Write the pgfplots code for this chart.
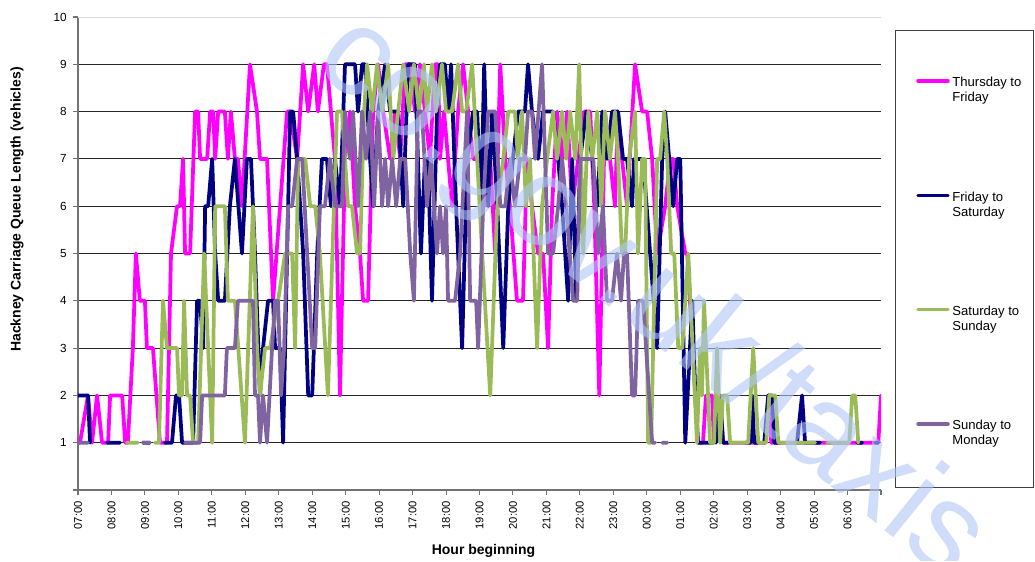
\documentclass[border=0pt]{standalone}
\usepackage{fontspec}
\setmainfont{Liberation Sans}
\usepackage{pgfplots}
\pgfplotsset{compat=1.18}
\usepackage{xcolor}

\definecolor{cThu}{RGB}{255,0,255}
\definecolor{cFri}{RGB}{0,0,128}
\definecolor{cSat}{RGB}{155,187,89}
\definecolor{cSun}{RGB}{128,100,162}
\definecolor{wmblue}{RGB}{175,198,248}

\begin{document}
\begin{tikzpicture}
\begin{axis}[
    at={(0,0)}, anchor=south west,
    scale only axis, width=602.25pt, height=354.75pt,
    xmin=0, xmax=24, ymin=0, ymax=10,
    axis lines*=left,
    axis line style={draw=black!55, line width=0.8pt},
    tick style={draw=black!55, line width=0.8pt},
    tick align=outside, major tick length=3.75pt,
    xtick={0,1,...,24},
    xticklabels={07:00,08:00,09:00,10:00,11:00,12:00,13:00,14:00,15:00,16:00,17:00,18:00,19:00,20:00,21:00,22:00,23:00,00:00,01:00,02:00,03:00,04:00,05:00,06:00,},
    ytick={0,1,...,9},
    yticklabels={,1,2,3,4,5,6,7,8,9},
    extra y ticks={10}, extra y tick labels={10},
    extra y tick style={grid style={black!15, line width=0.6pt}},
    ymajorgrids, grid style={black!85, line width=0.6pt},
    xticklabel style={rotate=90, anchor=east, inner sep=0pt, xshift=-4.5pt, font=\fontsize{8.4}{9}\selectfont},
    yticklabel style={anchor=east, inner sep=0pt, font=\fontsize{8.8}{9}\selectfont},
    yticklabel shift=4.5pt,
    xlabel={Hour beginning},
    ylabel={Hackney Carriage Queue Length (vehicles)},
    every axis x label/.style={at={(rel axis cs:0.505,0)}, anchor=center, yshift=-45.75pt, font=\bfseries\fontsize{10.5}{12}\selectfont},
    every axis y label/.style={at={(rel axis cs:0,0.593)}, anchor=center, rotate=90, yshift=45.75pt, font=\bfseries\fontsize{10.5}{12}\selectfont},
    unbounded coords=jump,
    every axis plot/.append style={line width=2.8pt, line join=round, line cap=round},
    legend cell align=left,
    legend image code/.code={\draw[#1, line width=2.6pt, line cap=round] (0pt,4.3pt) -- (22.5pt,4.3pt);},
    legend style={at={(1.0436,0.881)}, anchor=north west, draw=none, fill=none,
        inner sep=0pt, row sep=72.4pt, column sep=0pt,
        cells={anchor=base west, inner sep=0pt},
        font=\fontsize{9.8}{11.25}\selectfont},
]
\coordinate (O) at (rel axis cs:0,0);

% Thursday to Friday
\addplot[cThu] coordinates {
(0,1)(0.06,1)(0.30,2)(0.42,1)(0.57,2)(0.72,1)(0.90,1)(0.96,2)(1.32,2)(1.41,1)(1.49,1)(1.64,3)(1.73,5)(1.85,4)(2.00,4)(2.06,3)(2.24,3)(2.45,1)(2.66,1)(2.78,5)(2.96,6)(3.05,6)(3.14,7)(3.20,5)(3.35,5)(3.50,8)(3.59,8)(3.65,7)(3.86,7)(3.95,8)(4.04,8)(4.10,7)(4.19,8)(4.39,8)(4.48,7)(4.57,8)(4.69,7)(4.78,7)(4.90,6)(5.14,9)(5.35,8)(5.44,7)(5.65,7)(5.83,4)(6.04,6)(6.25,8)(6.34,8)(6.55,7)(6.73,9)(6.88,8)(7.06,9)(7.17,8)(7.35,9)(7.44,9)(7.56,8)(7.68,7)(7.83,2)(7.98,7)(8.13,8)(8.28,6)(8.43,5)(8.52,4)(8.67,4)(8.82,8)(8.97,9)(9.12,8)(9.33,7)(9.48,8)(9.63,7)(9.78,9)(9.93,9)(10.07,8)(10.22,9)(10.37,8)(10.52,7)(10.67,9)(10.76,9)(10.82,7)(10.94,8)(11.06,7)(11.18,6)(11.36,8)(11.51,9)(11.66,8)(11.81,7)(11.96,7)(12.14,6)(12.32,7)(12.47,5)(12.62,9)(12.77,7)(12.91,6)(13.12,4)(13.30,4)(13.42,7)(13.57,6)(13.75,5)(13.90,5)(14.05,3)(14.17,6)(14.32,8)(14.47,7)(14.62,8)(14.77,6)(14.95,7)(15.13,8)(15.31,8)(15.43,6)(15.58,2)(15.75,8)(15.90,7)(16.05,6)(16.14,8)(16.26,7)(16.41,6)(16.65,9)(16.86,8)(17.01,8)(17.16,7)(17.31,5)(17.55,6)(17.70,7)(17.79,7)(17.91,6)(18.15,5)(18.21,5)(18.53,1)(18.68,1)(18.77,2)(18.95,2)(19.01,1)(19.07,2)(19.19,2)(19.28,1)(20.54,1)(20.63,2)(20.72,1)(23.92,1)(24,2)
};
\addlegendentry{\begin{tabular}[t]{@{}l@{}}Thursday to\\Friday\end{tabular}}

% Friday to Saturday
\addplot[cFri] coordinates {
(0,2)(0.30,2)(0.36,1)(0.37,nan)(0.87,1)(1.26,1)(1.27,nan)(1.94,1)(2.15,1)(2.16,nan)(2.60,1)(2.81,1)(2.93,2)(3.02,2)(3.11,1)(3.44,1)(3.56,4)(3.65,4)(3.74,3)(3.80,6)(3.89,6)(4.01,7)(4.10,5)(4.19,4)(4.39,4)(4.54,6)(4.69,7)(4.90,5)(5.05,7)(5.17,7)(5.29,5)(5.44,2)(5.53,3)(5.68,4)(5.83,4)(5.89,3)(6.04,3)(6.13,1)(6.25,5)(6.34,8)(6.43,8)(6.55,7)(6.73,5)(6.88,2)(7.00,2)(7.15,5)(7.29,7)(7.44,7)(7.56,6)(7.68,7)(7.83,6)(7.98,9)(8.28,9)(8.37,8)(8.49,9)(8.58,9)(8.73,7)(8.82,6)(8.97,8)(9.18,9)(9.33,8)(9.57,8)(9.72,6)(9.87,9)(10.07,9)(10.25,5)(10.37,7)(10.46,7)(10.58,4)(10.73,8)(10.82,9)(10.97,9)(11.06,8)(11.15,9)(11.30,6)(11.48,3)(11.63,7)(11.81,8)(11.93,8)(12.05,6)(12.14,9)(12.26,6)(12.38,8)(12.53,6)(12.71,3)(12.86,6)(13.00,7)(13.15,8)(13.36,8)(13.45,9)(13.57,8)(13.75,7)(13.90,8)(14.02,8)(14.20,8)(14.35,7)(14.47,6)(14.65,4)(14.77,7)(14.89,4)(15.01,7)(15.19,8)(15.37,7)(15.52,6)(15.67,8)(15.81,7)(15.96,8)(16.14,8)(16.29,7)(16.41,7)(16.56,6)(16.62,7)(16.89,7)(17.31,3)(17.46,7)(17.55,8)(17.79,6)(17.91,7)(18.00,7)(18.15,1)(18.36,4)(18.45,2)(18.53,1)(18.98,1)(18.99,nan)(19.07,1)(19.19,2)(19.28,1)(19.43,1)(19.44,nan)(19.94,1)(20.09,1)(20.15,2)(20.21,1)(20.33,1)(20.34,nan)(20.51,1)(20.63,2)(20.75,2)(20.81,1)(20.99,1)(21.00,nan)(21.49,1)(21.64,2)(21.73,1)(22.18,1)(22.19,nan)(23.29,1)(23.44,1)(23.45,nan)(23.83,1)(23.92,1)
};
\addlegendentry{\begin{tabular}[t]{@{}l@{}}Friday to\\Saturday\end{tabular}}

% Saturday to Sunday
\addplot[cSat] coordinates {
(1.46,1)(1.79,1)(1.80,nan)(2.30,1)(2.42,1)(2.54,4)(2.66,3)(2.96,3)(3.02,2)(3.11,2)(3.17,4)(3.26,2)(3.35,2)(3.44,1)(3.59,1)(3.77,5)(4.01,1)(4.10,6)(4.39,6)(4.48,4)(4.69,4)(4.99,1)(5.23,6)(5.35,3)(5.44,2)(5.59,3)(5.74,3)(5.98,4)(6.19,5)(6.40,5)(6.49,3)(6.58,7)(6.79,7)(6.94,6)(7.09,6)(7.23,5)(7.47,2)(7.74,8)(7.89,8)(8.07,6)(8.19,6)(8.34,5)(8.43,5)(8.55,8)(8.64,9)(8.79,8)(8.94,9)(9.09,8)(9.27,9)(9.42,7)(9.57,8)(9.72,9)(9.90,8)(10.04,9)(10.19,8)(10.34,9)(10.43,8)(10.58,9)(10.70,8)(10.88,9)(11.00,8)(11.18,8)(11.36,9)(11.48,8)(11.60,8)(11.78,9)(11.93,7)(12.08,5)(12.32,2)(12.53,6)(12.71,7)(12.86,8)(13.06,8)(13.15,7)(13.27,8)(13.39,6)(13.51,7)(13.72,3)(13.87,6)(14.02,7)(14.20,8)(14.32,7)(14.47,8)(14.59,7)(14.71,8)(14.86,7)(14.98,9)(15.10,5)(15.25,8)(15.37,7)(15.52,8)(15.64,6)(15.75,8)(15.90,7)(16.05,8)(16.14,7)(16.26,5)(16.35,5)(16.47,7)(16.65,8)(16.74,5)(16.86,7)(16.95,7)(17.04,1)(17.13,1)(17.31,7)(17.40,7)(17.52,8)(17.61,7)(17.73,5)(17.82,5)(17.94,3)(18.06,3)(18.24,5)(18.50,1)(18.59,3)(18.65,2)(18.71,4)(18.89,1)(19.01,1)(19.10,3)(19.19,1)(19.28,2)(19.40,2)(19.49,1)(20.03,1)(20.18,3)(20.33,1)(20.57,1)(20.66,2)(20.84,2)(20.93,1)(22.03,1)(22.04,nan)(22.39,1)(23.05,1)(23.14,2)(23.23,2)(23.32,1)
};
\addlegendentry{\begin{tabular}[t]{@{}l@{}}Saturday to\\Sunday\end{tabular}}

% Sunday to Monday
\addplot[cSun] coordinates {
(0,1)(0.30,1)(0.31,nan)(1.94,1)(2.15,1)(2.16,nan)(3.20,1)(3.65,1)(3.71,2)(4.39,2)(4.45,3)(4.69,3)(4.78,4)(5.23,4)(5.29,2)(5.38,2)(5.44,1)(5.53,2)(5.65,1)(5.80,3)(5.89,4)(5.98,4)(6.07,2)(6.16,3)(6.28,6)(6.40,6)(6.55,7)(6.70,7)(6.85,5)(7.00,3)(7.09,3)(7.23,6)(7.38,6)(7.53,7)(7.68,6)(7.89,6)(7.98,8)(8.13,7)(8.22,8)(8.37,6)(8.49,8)(8.61,7)(8.73,8)(8.85,6)(8.97,8)(9.09,6)(9.18,7)(9.27,6)(9.39,7)(9.51,6)(9.63,7)(9.78,7)(9.93,5)(10.04,4)(10.16,8)(10.28,8)(10.43,6)(10.55,7)(10.73,5)(10.82,6)(10.91,5)(11.00,6)(11.06,4)(11.27,4)(11.42,5)(11.63,8)(11.72,4)(11.90,4)(11.96,3)(12.11,6)(12.26,8)(12.47,8)(12.62,6)(12.77,6)(12.91,7)(13.06,6)(13.21,7)(13.36,7)(13.45,8)(13.57,8)(13.66,7)(13.87,9)(14.05,5)(14.20,5)(14.35,6)(14.47,7)(14.59,6)(14.80,4)(14.92,4)(15.01,7)(15.19,7)(15.40,7)(15.55,5)(15.69,6)(15.81,4)(15.96,4)(16.11,5)(16.23,4)(16.32,5)(16.41,5)(16.56,2)(16.65,2)(16.74,4)(16.89,4)(17.16,1)(17.25,1)(17.26,nan)(17.46,1)(17.61,1)
};
\addlegendentry{\begin{tabular}[t]{@{}l@{}}Sunday to\\Monday\end{tabular}}
\end{axis}

\path[use as bounding box, shift={(O)}] (-58.5pt,-53.25pt) rectangle (717.75pt,367.5pt);
% legend frame
\draw[black!75, line width=0.75pt, shift={(O)}] (612.75pt,1.5pt) rectangle (716.8pt,344.25pt);
% watermark
\begin{scope}[shift={(O)}]
\clip (-58.5pt,-53.25pt) rectangle (717.75pt,367.5pt);
\node[rotate=-39, anchor=base west, inner sep=0pt, text=wmblue, text opacity=0.6,
      font=\fontsize{94}{94}\selectfont] at (175pt,318pt) {co.gov.uk/taxis};
\end{scope}
\end{tikzpicture}
\end{document}
